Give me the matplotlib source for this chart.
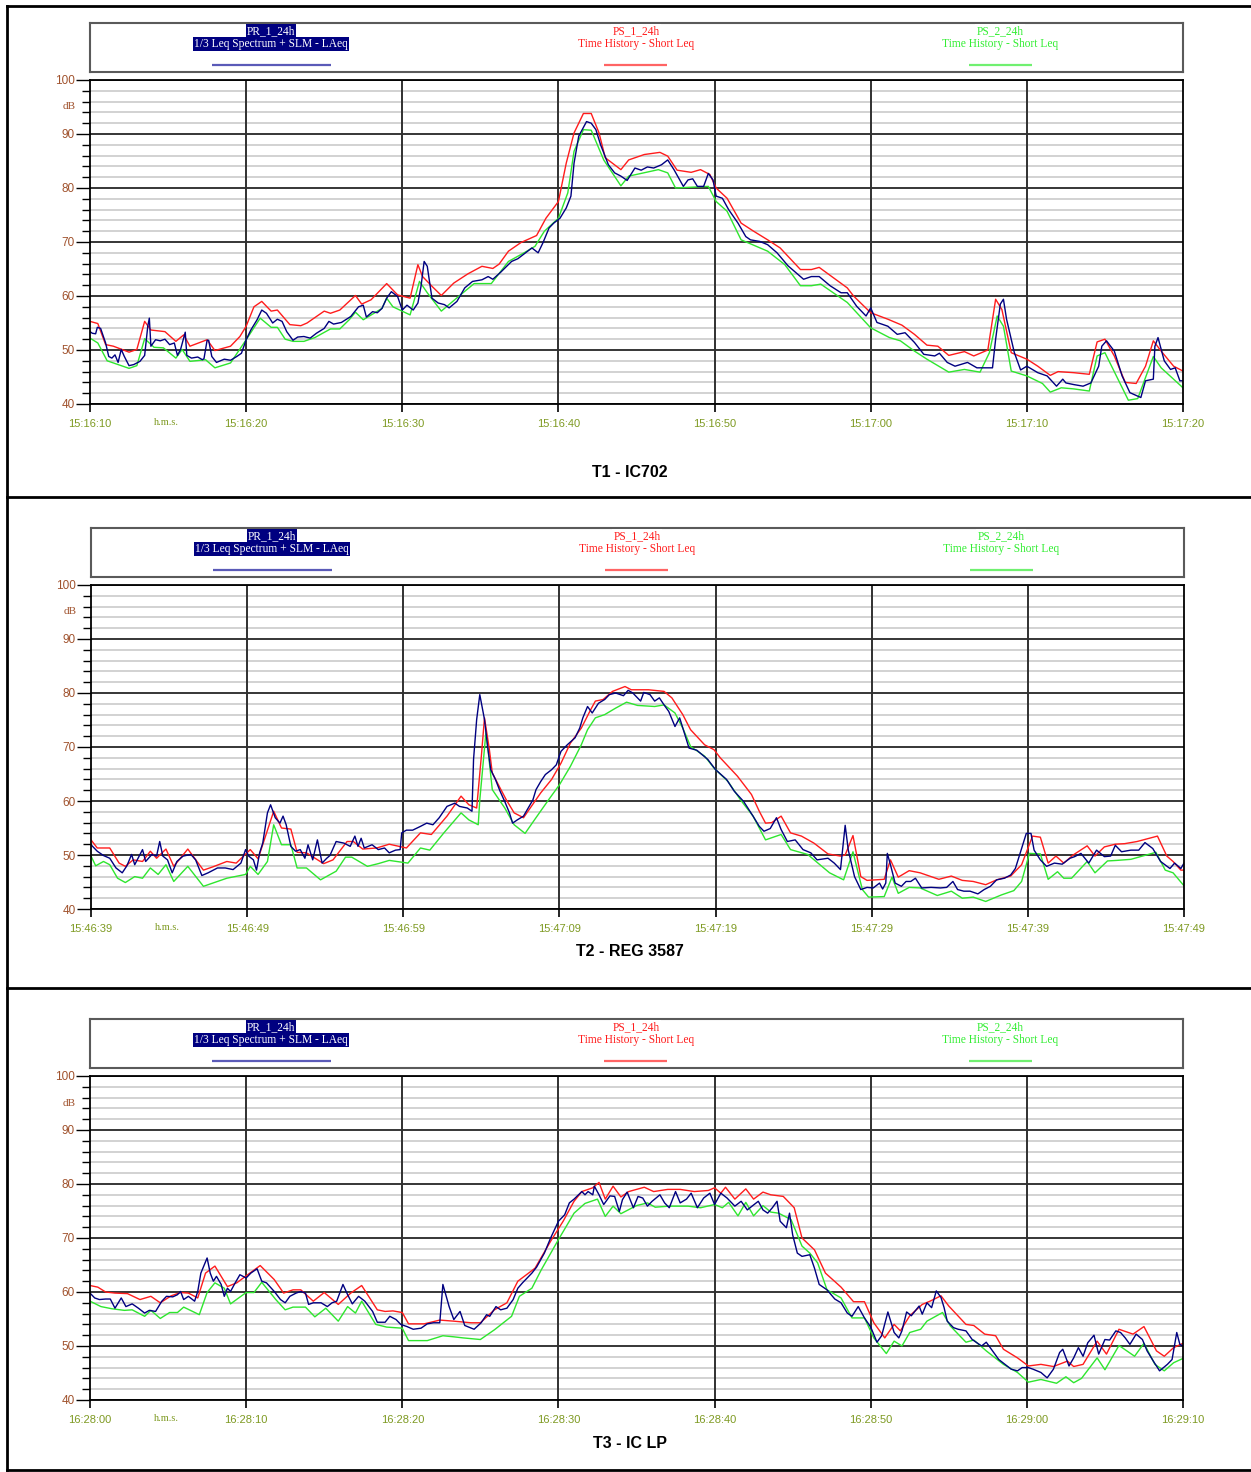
import matplotlib
matplotlib.use("Agg")
import matplotlib.pyplot as plt
from matplotlib.lines import Line2D
from matplotlib.ticker import MultipleLocator
from matplotlib.transforms import blended_transform_factory

# Sound level traces, (seconds from start, dB)
# T1 - IC702
T1_PR = [(0, 53.4), (0.15, 53.1), (0.36, 53.0), (0.47, 54.2), (0.68, 54.0), (1.0, 51.3), (1.2, 48.8),
         (1.4, 48.5), (1.6, 49.1), (1.8, 47.7), (2.0, 50.1), (2.2, 48.8), (2.5, 47.1), (2.8, 47.3),
         (3.2, 47.9), (3.5, 49.0), (3.7, 54.4), (3.8, 55.9), (3.9, 50.7), (4.2, 51.9), (4.5, 51.7),
         (4.8, 52.0), (5.1, 51.0), (5.4, 51.3), (5.6, 49.0), (5.8, 50.1), (6.1, 53.3), (6.2, 49.0),
         (6.5, 48.5), (6.9, 48.7), (7.2, 48.2), (7.3, 48.4), (7.5, 51.8), (7.6, 51.8), (7.8, 48.8),
         (8.1, 47.7), (8.6, 48.3), (9.0, 48.1), (9.4, 48.8), (9.7, 49.4), (10.0, 51.9), (10.3, 53.7),
         (10.7, 55.6), (11.0, 57.4), (11.3, 56.8), (11.7, 55.0), (12.0, 55.7), (12.3, 55.3), (12.6, 53.4),
         (13.0, 51.8), (13.3, 52.4), (13.7, 52.5), (14.1, 52.2), (14.5, 53.1), (15.0, 54.0), (15.3, 55.3),
         (15.6, 54.8), (16.1, 55.1), (16.7, 56.2), (17.2, 58.0), (17.5, 58.3), (17.7, 56.1), (18.1, 57.1),
         (18.4, 56.9), (18.7, 57.7), (19.0, 59.6), (19.3, 60.8), (19.7, 59.9), (20.0, 57.4), (20.3, 58.3),
         (20.7, 57.4), (21.0, 58.7), (21.2, 61.8), (21.4, 66.4), (21.6, 65.5), (21.9, 59.6), (22.3, 58.7),
         (22.7, 58.4), (23.0, 57.8), (23.5, 59.0), (24.0, 61.5), (24.5, 62.7), (25.1, 63.0), (25.5, 63.6),
         (25.8, 63.1), (26.3, 64.4), (27.0, 66.4), (27.4, 66.9), (27.8, 67.8), (28.3, 68.9), (28.7, 68.0),
         (29.0, 69.8), (29.4, 72.6), (29.7, 73.5), (30.1, 74.4), (30.5, 76.3), (30.8, 78.5), (31.0, 84.6),
         (31.3, 89.6), (31.8, 92.3), (32.1, 92.0), (32.4, 90.8), (32.7, 88.0), (33.2, 84.3), (33.6, 82.8),
         (34.0, 82.2), (34.4, 81.4), (34.9, 83.7), (35.3, 83.3), (35.7, 83.9), (36.1, 83.7), (36.6, 84.3),
         (37.0, 85.2), (37.4, 83.4), (38.0, 80.3), (38.3, 81.5), (38.6, 81.7), (38.9, 80.3), (39.3, 80.3),
         (39.6, 82.7), (39.9, 81.5), (40.1, 78.5), (40.5, 78.1), (40.9, 76.0), (41.5, 73.5), (42.0, 71.0),
         (42.3, 70.4), (42.9, 70.1), (43.4, 69.5), (44.0, 68.0), (44.7, 65.6), (45.1, 64.6), (45.7, 63.1),
         (46.2, 63.6), (46.7, 63.6), (47.4, 61.9), (48.1, 60.6), (48.5, 60.6), (49.1, 58.1), (49.7, 56.3),
         (50.0, 57.8), (50.4, 55.1), (51.1, 54.4), (51.7, 52.9), (52.2, 53.2), (52.8, 51.4), (53.4, 49.2),
         (54.1, 48.9), (54.4, 49.4), (54.9, 47.7), (55.4, 47.0), (56.2, 47.7), (56.8, 46.7), (57.4, 46.7),
         (57.8, 46.7), (58.0, 52.0), (58.3, 58.5), (58.5, 59.4), (58.7, 55.7), (59.2, 49.5), (59.6, 46.3),
         (60.0, 47.0), (60.7, 45.8), (61.3, 45.2), (61.9, 43.3), (62.3, 44.6), (62.5, 43.9), (63.0, 43.6),
         (63.6, 43.3), (64.1, 43.9), (64.6, 47.0), (64.8, 50.7), (65.1, 51.7), (65.6, 49.8), (66.1, 45.2),
         (66.6, 42.1), (67.3, 41.2), (67.6, 44.3), (68.1, 44.6), (68.2, 50.7), (68.4, 52.3), (68.8, 48.0),
         (69.2, 46.4), (69.5, 46.7), (69.8, 44.3), (70.0, 44.3)]
T1_PS1 = [(0, 55.3), (0.5, 54.9), (1.0, 51.0), (1.5, 50.7), (2.5, 49.6), (3.0, 50.1), (3.5, 55.3),
          (3.9, 53.7), (4.8, 53.4), (5.5, 51.6), (6.0, 52.8), (6.4, 50.7), (7.5, 51.9), (8.0, 49.9),
          (9.0, 50.7), (9.6, 52.5), (10.0, 54.4), (10.5, 58.0), (11.0, 59.0), (11.6, 57.2), (12.0, 57.4),
          (12.8, 54.7), (13.5, 54.5), (13.9, 55.0), (15.0, 57.2), (15.4, 56.8), (16.0, 57.4), (17.0, 60.1),
          (17.4, 58.5), (18.0, 59.3), (19.0, 62.3), (19.7, 60.2), (20.5, 59.6), (21.0, 65.8), (21.3, 63.6),
          (21.9, 61.8), (22.5, 60.1), (23.3, 62.4), (24.2, 64.1), (25.1, 65.5), (25.8, 65.1), (26.2, 65.9),
          (26.8, 68.3), (27.6, 69.9), (28.6, 71.2), (29.2, 74.4), (30.0, 77.5), (30.5, 84.6), (31.0, 90.2),
          (31.6, 93.8), (32.1, 93.8), (32.6, 90.2), (33.0, 85.6), (34.0, 83.4), (34.5, 85.2), (35.5, 86.2),
          (36.5, 86.6), (37.0, 85.9), (37.6, 83.3), (38.5, 82.9), (39.1, 83.4), (39.7, 82.5), (40.1, 80.0),
          (40.8, 78.1), (41.7, 73.5), (42.5, 72.0), (43.4, 70.4), (44.2, 68.9), (45.5, 64.9), (46.2, 64.9),
          (46.7, 65.3), (48.5, 61.5), (48.9, 60.0), (50.0, 56.9), (51.1, 55.7), (52.0, 54.6), (52.8, 52.9),
          (53.6, 50.9), (54.3, 50.7), (55.0, 49.0), (56.0, 49.7), (56.6, 48.9), (57.5, 50.0), (58.0, 59.4),
          (58.4, 57.5), (59.0, 49.5), (60.0, 48.3), (60.7, 47.0), (61.5, 45.3), (62.0, 46.0), (63.0, 45.8),
          (64.0, 45.5), (64.5, 51.5), (65.0, 52.0), (65.6, 48.9), (66.3, 44.0), (67.0, 43.8), (67.6, 47.0),
          (68.1, 51.7), (68.6, 49.8), (69.4, 47.0), (70.0, 46.1)]
T1_PS2 = [(0, 52.2), (0.5, 51.3), (1.1, 48.0), (2.5, 46.6), (3.0, 47.1), (3.5, 52.1), (4.1, 50.5),
          (4.7, 50.4), (5.5, 48.5), (5.9, 50.1), (6.4, 47.9), (7.4, 48.2), (8.0, 46.7), (9.0, 47.6),
          (10.0, 51.9), (10.9, 55.9), (11.6, 54.2), (12.0, 54.2), (12.5, 52.0), (13.0, 51.6), (13.7, 51.6),
          (14.4, 52.3), (15.4, 53.9), (16.0, 53.9), (16.6, 55.6), (17.0, 57.0), (17.5, 55.6), (18.7, 57.7),
          (19.0, 59.6), (19.4, 58.0), (20.5, 56.5), (21.1, 62.7), (21.6, 60.6), (22.5, 57.2), (23.6, 59.9),
          (24.6, 62.3), (25.7, 62.3), (26.8, 66.4), (27.8, 68.0), (28.5, 69.2), (29.1, 72.0), (30.0, 74.4),
          (30.6, 79.1), (31.0, 86.8), (31.6, 90.8), (32.1, 90.7), (32.9, 85.2), (34.0, 80.4), (34.5, 82.2),
          (35.3, 82.7), (36.4, 83.4), (37.0, 82.8), (37.5, 80.0), (39.6, 80.3), (40.1, 77.5), (40.8, 75.7),
          (41.7, 70.4), (43.4, 68.3), (44.5, 65.8), (45.5, 61.9), (46.2, 61.9), (46.8, 62.2), (48.5, 58.8),
          (50.0, 54.1), (51.2, 52.3), (51.9, 51.7), (52.8, 49.8), (53.6, 48.3), (55.0, 45.9), (56.0, 46.4),
          (57.0, 45.9), (57.6, 49.5), (58.1, 56.3), (58.5, 54.4), (59.0, 46.1), (60.0, 45.2), (61.0, 43.8),
          (61.5, 42.2), (62.2, 43.0), (63.0, 42.8), (64.0, 42.4), (64.5, 48.9), (65.0, 49.5), (66.5, 40.7),
          (67.1, 41.0), (67.6, 44.9), (68.1, 48.8), (68.6, 46.7), (70.0, 43.0)]

# T2 - REG 3587
T2_PR = [(0, 51.9), (0.4, 50.7), (0.8, 49.9), (1.2, 49.4), (1.6, 47.6), (2.0, 46.7), (2.3, 48.0),
         (2.6, 50.1), (2.8, 48.2), (3.3, 51.0), (3.5, 48.8), (3.9, 50.1), (4.2, 49.8), (4.4, 52.5),
         (4.6, 49.8), (4.9, 49.1), (5.2, 46.7), (5.5, 48.8), (5.9, 49.8), (6.4, 50.1), (6.7, 49.1),
         (7.1, 46.2), (7.5, 46.7), (8.1, 47.6), (8.6, 47.6), (9.1, 47.3), (9.6, 48.5), (9.9, 51.0),
         (10.1, 49.8), (10.4, 49.1), (10.6, 47.2), (10.8, 50.4), (11.0, 52.2), (11.3, 57.8), (11.5, 59.3),
         (11.8, 56.9), (12.1, 55.9), (12.3, 57.2), (12.5, 55.6), (12.8, 51.6), (13.1, 50.7), (13.4, 51.0),
         (13.7, 49.4), (13.9, 51.9), (14.2, 49.1), (14.5, 52.8), (14.8, 48.5), (15.1, 49.4), (15.3, 49.9),
         (15.7, 52.5), (16.2, 52.2), (16.6, 51.6), (16.9, 53.5), (17.1, 51.6), (17.3, 53.1), (17.5, 51.3),
         (18.0, 51.9), (18.4, 51.0), (18.8, 51.3), (19.1, 50.4), (19.5, 50.9), (19.8, 51.0), (19.9, 54.1),
         (20.2, 54.6), (20.6, 54.6), (21.1, 55.3), (21.5, 55.9), (21.9, 55.6), (22.3, 56.9), (22.8, 59.0),
         (23.3, 59.6), (23.6, 59.0), (24.1, 58.7), (24.4, 58.1), (24.5, 67.7), (24.7, 75.1), (24.9, 79.7),
         (25.2, 75.1), (25.4, 70.1), (25.6, 65.8), (25.9, 64.0), (26.2, 61.8), (26.5, 59.9), (26.8, 57.8),
         (27.0, 55.9), (27.3, 56.5), (27.7, 57.2), (28.0, 58.7), (28.3, 60.2), (28.5, 62.1), (28.8, 63.6),
         (29.1, 64.9), (29.5, 65.8), (29.8, 66.7), (30.1, 69.2), (30.5, 70.4), (31.0, 71.7), (31.3, 73.5),
         (31.5, 75.4), (31.8, 77.5), (32.1, 76.3), (32.5, 78.1), (32.9, 78.8), (33.2, 79.7), (33.6, 80.0),
         (34.1, 79.5), (34.4, 80.5), (34.7, 80.0), (35.0, 79.1), (35.2, 78.5), (35.4, 80.1), (35.8, 79.7),
         (36.1, 78.5), (36.4, 79.1), (36.7, 77.8), (37.0, 76.6), (37.4, 73.8), (37.7, 75.4), (38.0, 72.6),
         (38.3, 69.8), (38.8, 69.4), (39.5, 67.7), (40.0, 65.8), (40.7, 64.0), (41.2, 61.8), (41.8, 59.9),
         (42.4, 57.2), (42.8, 55.3), (43.1, 54.4), (43.5, 54.9), (43.9, 56.9), (44.2, 54.7), (44.6, 52.5),
         (45.1, 52.8), (45.6, 51.0), (46.1, 50.4), (46.5, 49.1), (47.2, 49.4), (47.6, 48.5), (48.0, 47.3),
         (48.2, 52.8), (48.3, 55.5), (48.5, 50.9), (48.9, 46.0), (49.3, 43.6), (49.7, 44.0), (50.1, 43.9),
         (50.5, 44.8), (50.7, 43.7), (50.9, 44.8), (51.0, 50.3), (51.2, 48.2), (51.5, 44.8), (51.9, 44.2),
         (52.2, 45.1), (52.5, 45.1), (52.8, 45.7), (53.2, 43.9), (53.8, 44.0), (54.4, 43.9), (54.8, 44.0),
         (55.2, 45.1), (55.5, 43.6), (55.9, 43.3), (56.3, 43.3), (56.8, 42.8), (57.2, 43.6), (57.6, 44.2),
         (58.0, 45.4), (58.5, 45.7), (58.9, 46.3), (59.2, 47.5), (59.5, 50.3), (59.9, 54.0), (60.2, 54.0),
         (60.4, 50.9), (60.8, 49.1), (61.2, 47.9), (61.7, 48.5), (62.2, 48.3), (62.7, 49.4), (63.0, 49.7),
         (63.4, 50.3), (63.9, 48.5), (64.4, 50.9), (64.9, 49.7), (65.3, 49.8), (65.6, 51.8), (66.0, 50.6),
         (66.6, 50.9), (67.1, 50.9), (67.5, 52.3), (68.0, 51.2), (68.5, 48.8), (69.1, 47.5), (69.4, 48.5),
         (69.8, 47.5), (70.0, 48.5)]
T2_PS1 = [(0, 52.8), (0.4, 51.3), (1.2, 51.3), (1.8, 48.5), (2.2, 47.9), (2.7, 49.1), (3.3, 48.8),
          (3.8, 50.7), (4.2, 49.4), (4.8, 51.1), (5.3, 47.9), (6.2, 51.1), (7.2, 47.2), (7.8, 47.8),
          (8.7, 48.8), (9.3, 48.5), (10.2, 51.0), (10.7, 49.3), (11.7, 58.1), (12.2, 55.0), (12.8, 54.8),
          (13.2, 50.5), (13.8, 50.4), (14.9, 48.4), (15.5, 49.1), (16.4, 52.5), (16.8, 52.5), (17.4, 51.1),
          (18.3, 51.3), (19.1, 52.0), (20.2, 51.3), (21.1, 54.1), (21.8, 53.8), (22.8, 57.2), (23.7, 60.9),
          (24.2, 59.3), (24.7, 58.7), (25.0, 68.3), (25.2, 75.4), (25.5, 69.8), (25.7, 65.2), (26.2, 62.4),
          (26.6, 60.2), (27.1, 57.8), (27.7, 56.9), (28.2, 59.0), (28.8, 61.5), (29.5, 64.0), (30.1, 67.0),
          (30.7, 70.7), (31.4, 73.5), (32.0, 76.9), (32.3, 78.5), (32.8, 78.8), (33.4, 80.3), (34.2, 81.2),
          (34.6, 80.6), (35.7, 80.6), (36.7, 80.3), (37.2, 79.1), (37.9, 76.0), (38.4, 73.2), (39.3, 70.4),
          (39.9, 69.5), (40.3, 68.0), (41.4, 64.6), (42.3, 61.2), (42.8, 58.1), (43.2, 55.9), (43.6, 56.0),
          (44.2, 57.2), (44.8, 54.1), (45.5, 53.5), (46.3, 52.2), (47.2, 50.2), (48.0, 49.8), (48.3, 50.0),
          (48.8, 53.6), (49.3, 46.0), (49.7, 45.3), (50.8, 45.5), (51.2, 49.1), (51.7, 45.9), (52.4, 47.1),
          (53.1, 46.7), (54.3, 45.5), (55.1, 46.1), (55.8, 45.3), (56.5, 45.1), (57.3, 44.5), (58.0, 45.4),
          (58.9, 46.1), (59.6, 48.2), (60.3, 53.5), (60.8, 53.3), (61.3, 48.5), (61.8, 49.8), (62.3, 48.5),
          (62.9, 50.0), (63.8, 51.7), (64.3, 49.8), (64.9, 51.5), (65.6, 52.0), (66.2, 52.1), (67.0, 52.5),
          (68.3, 53.5), (68.9, 49.8), (69.3, 48.8), (69.8, 47.2), (70.0, 47.2)]
T2_PS2 = [(0, 49.8), (0.3, 48.0), (0.8, 48.8), (1.2, 48.2), (1.7, 45.7), (2.2, 44.9), (2.8, 46.0),
          (3.3, 45.7), (3.8, 47.6), (4.3, 46.4), (4.8, 48.2), (5.3, 45.1), (6.2, 47.9), (7.2, 44.2),
          (8.7, 45.7), (9.9, 46.4), (10.2, 47.9), (10.7, 46.4), (11.3, 48.8), (11.7, 55.6), (12.2, 51.9),
          (12.8, 51.9), (13.2, 47.6), (13.8, 47.6), (14.7, 45.4), (15.7, 47.0), (16.3, 49.6), (16.7, 49.6),
          (17.7, 47.9), (18.4, 48.4), (19.1, 49.0), (20.3, 48.5), (21.1, 51.3), (21.7, 50.9), (22.6, 54.1),
          (23.7, 57.8), (24.2, 56.5), (24.8, 55.6), (24.9, 60.2), (25.3, 72.9), (25.7, 62.1), (26.5, 58.7),
          (27.1, 55.6), (27.8, 54.0), (28.4, 56.5), (29.3, 60.2), (30.0, 63.0), (30.7, 66.4), (31.4, 70.4),
          (31.8, 73.2), (32.3, 75.4), (32.9, 76.0), (33.6, 77.2), (34.3, 78.3), (35.0, 77.7), (36.1, 77.5),
          (36.7, 77.8), (37.4, 76.3), (37.9, 73.5), (38.4, 70.1), (39.3, 68.3), (39.9, 66.1), (40.8, 63.6),
          (41.6, 60.2), (42.4, 57.2), (43.2, 52.8), (44.2, 53.8), (44.8, 51.0), (45.9, 50.1), (47.3, 46.7),
          (48.2, 45.4), (48.8, 50.6), (49.4, 43.6), (49.8, 42.2), (50.8, 42.3), (51.3, 45.9), (51.7, 42.9),
          (52.4, 44.0), (53.1, 43.9), (54.2, 42.5), (55.1, 43.3), (55.8, 42.0), (56.5, 42.2), (57.3, 41.4),
          (58.3, 42.6), (59.1, 43.4), (59.6, 45.1), (60.1, 50.3), (60.8, 50.2), (61.3, 45.5), (61.9, 46.9),
          (62.3, 45.7), (62.8, 45.7), (63.8, 48.8), (64.3, 46.7), (65.1, 48.9), (65.7, 49.0), (66.6, 49.2),
          (68.2, 50.5), (68.8, 47.2), (69.3, 46.7), (70.0, 44.3)]

# T3 - IC LP
T3_PR = [(0, 59.8), (0.3, 58.9), (0.6, 58.6), (1.0, 58.7), (1.3, 58.7), (1.6, 57.0), (2.0, 58.9),
         (2.3, 57.3), (2.7, 57.8), (3.1, 57.0), (3.5, 56.1), (3.8, 56.6), (4.2, 56.4), (4.6, 58.3),
         (4.9, 59.2), (5.3, 59.1), (5.6, 59.5), (5.8, 60.1), (6.0, 58.6), (6.3, 59.2), (6.7, 58.3),
         (6.9, 60.1), (7.1, 63.5), (7.5, 66.3), (7.7, 63.5), (7.9, 62.0), (8.1, 62.9), (8.4, 61.4),
         (8.6, 59.2), (8.8, 60.7), (9.0, 60.1), (9.3, 61.7), (9.6, 63.2), (10.0, 62.6), (10.3, 63.5),
         (10.7, 64.3), (11.0, 62.0), (11.3, 61.7), (11.8, 60.1), (12.2, 58.6), (12.5, 58.0), (12.8, 59.2),
         (13.2, 59.8), (13.5, 60.1), (13.8, 59.8), (14.0, 57.7), (14.3, 58.0), (14.8, 58.0), (15.2, 57.3),
         (15.5, 58.0), (15.8, 58.3), (16.2, 61.4), (16.5, 59.5), (16.8, 57.8), (17.2, 59.2), (17.6, 58.3),
         (18.1, 56.4), (18.4, 54.4), (18.9, 54.4), (19.2, 55.5), (19.6, 54.9), (19.9, 54.0), (20.3, 53.6),
         (20.7, 53.1), (21.2, 53.3), (21.6, 54.1), (22.0, 54.3), (22.4, 54.3), (22.6, 61.4), (23.0, 57.3),
         (23.3, 54.9), (23.7, 56.4), (24.0, 53.8), (24.6, 53.1), (25.05, 54.3), (25.4, 55.8), (25.6, 55.5),
         (26.0, 57.3), (26.3, 56.7), (26.7, 57.0), (27.1, 58.6), (27.4, 60.7), (27.7, 61.7), (28.3, 63.5),
         (28.6, 64.6), (29.1, 67.2), (29.5, 70.0), (30.0, 73.1), (30.4, 74.3), (30.7, 76.5), (31.0, 77.2),
         (31.5, 78.6), (31.7, 78.0), (31.9, 78.6), (32.2, 78.0), (32.3, 79.6), (32.6, 78.0), (32.9, 76.2),
         (33.3, 77.8), (33.6, 77.7), (33.9, 74.9), (34.1, 77.1), (34.4, 78.5), (34.8, 75.6), (35.1, 77.7),
         (35.4, 77.4), (35.7, 75.9), (36.0, 76.8), (36.5, 78.0), (36.8, 76.5), (37.1, 75.6), (37.5, 78.6),
         (37.8, 76.5), (38.2, 77.2), (38.5, 78.3), (38.9, 75.6), (39.3, 77.4), (39.7, 78.3), (40.0, 76.2),
         (40.4, 78.3), (40.8, 77.4), (41.3, 75.9), (41.7, 76.8), (42.1, 75.2), (42.4, 75.9), (42.8, 76.8),
         (43.1, 75.2), (43.4, 74.6), (43.7, 75.6), (44.0, 76.8), (44.2, 73.1), (44.6, 71.9), (44.8, 74.6),
         (45.0, 70.6), (45.3, 67.2), (45.6, 66.6), (46.1, 66.9), (46.4, 64.4), (46.7, 61.4), (47.2, 60.4),
         (47.7, 58.7), (48.1, 58.0), (48.5, 56.1), (48.8, 55.5), (49.2, 57.3), (49.6, 55.2), (50.0, 53.5),
         (50.4, 50.7), (50.7, 51.9), (51.1, 56.3), (51.5, 52.5), (51.8, 51.5), (52.0, 52.8), (52.3, 56.3),
         (52.6, 55.6), (53.1, 57.4), (53.3, 55.9), (53.6, 58.0), (53.9, 57.1), (54.2, 60.2), (54.5, 59.0),
         (54.7, 57.1), (54.9, 54.6), (55.3, 53.4), (55.6, 53.1), (56.1, 52.8), (56.5, 51.2), (56.8, 50.6),
         (57.1, 50.0), (57.4, 50.7), (57.8, 49.1), (58.2, 47.5), (58.6, 46.6), (59.0, 45.7), (59.4, 45.4),
         (59.7, 46.0), (60.1, 46.0), (60.4, 45.7), (60.9, 45.1), (61.3, 44.1), (61.7, 45.7), (62.1, 48.8),
         (62.3, 49.4), (62.7, 46.3), (63.0, 47.8), (63.3, 49.7), (63.6, 48.1), (63.9, 50.6), (64.3, 52.0),
         (64.6, 48.5), (65.0, 51.2), (65.3, 51.1), (65.7, 52.8), (66.0, 52.5), (66.3, 51.5), (66.6, 50.3),
         (67.0, 52.2), (67.4, 51.2), (67.7, 49.1), (68.1, 47.2), (68.5, 45.4), (69.0, 46.6), (69.3, 47.5),
         (69.6, 52.5), (69.8, 50.3), (70.0, 50.0)]
T3_PS1 = [(0, 61.2), (0.5, 60.9), (1.0, 60.0), (1.6, 59.8), (2.4, 59.7), (3.2, 58.6), (3.9, 59.2),
          (4.5, 58.0), (5.2, 59.3), (5.8, 59.9), (6.3, 59.8), (6.9, 58.9), (7.4, 63.5), (8.0, 64.8),
          (8.8, 61.0), (9.4, 61.7), (10.1, 63.2), (10.9, 64.9), (11.8, 62.3), (12.4, 59.8), (13.0, 60.4),
          (13.5, 60.4), (14.3, 58.3), (15.0, 59.9), (15.9, 57.7), (16.7, 59.8), (17.4, 61.2), (18.4, 56.7),
          (18.9, 56.4), (19.4, 56.5), (20.0, 56.2), (20.4, 54.1), (21.4, 54.1), (22.4, 54.8), (23.3, 54.6),
          (24.4, 54.3), (25.0, 54.3), (25.9, 56.7), (26.7, 58.0), (27.4, 62.0), (28.5, 64.4), (29.5, 69.4),
          (30.3, 73.1), (31.0, 76.8), (31.5, 78.6), (32.2, 79.3), (32.6, 80.3), (33.0, 77.2), (33.5, 79.6),
          (34.0, 77.6), (34.5, 78.6), (35.5, 79.4), (36.1, 78.6), (37.0, 79.0), (37.8, 79.0), (38.7, 78.6),
          (39.6, 78.8), (40.0, 79.3), (40.4, 78.3), (40.7, 79.4), (41.3, 77.2), (42.0, 79.1), (42.5, 77.2),
          (43.1, 78.5), (43.6, 78.0), (44.4, 77.7), (45.1, 75.6), (45.6, 70.0), (46.4, 67.8), (47.1, 63.5),
          (48.1, 60.9), (48.9, 58.2), (49.6, 58.2), (50.2, 54.3), (50.9, 51.5), (51.5, 54.0), (51.9, 52.8),
          (52.5, 55.6), (53.3, 57.7), (53.8, 58.3), (54.5, 59.3), (55.0, 57.4), (56.1, 54.0), (56.6, 53.8),
          (57.3, 52.2), (58.0, 51.9), (58.5, 49.4), (59.4, 47.8), (60.1, 46.3), (60.9, 46.6), (61.7, 46.2),
          (62.6, 47.2), (63.0, 46.2), (63.6, 46.6), (64.5, 50.9), (65.1, 48.5), (65.9, 53.1), (66.8, 52.2),
          (67.5, 53.6), (68.3, 49.1), (68.8, 48.1), (69.4, 49.7), (70.0, 50.5)]
T3_PS2 = [(0, 58.3), (0.7, 57.3), (1.4, 56.9), (2.2, 56.6), (2.7, 56.7), (3.5, 55.5), (3.9, 56.6),
          (4.5, 55.1), (5.1, 56.2), (5.6, 56.2), (6.0, 57.2), (7.0, 55.8), (7.5, 59.9), (8.0, 61.7),
          (8.6, 60.7), (9.0, 57.8), (10.0, 59.9), (10.5, 59.9), (11.0, 61.8), (11.9, 58.6), (12.5, 56.7),
          (13.0, 57.2), (13.8, 57.2), (14.4, 55.4), (15.1, 57.0), (15.9, 54.6), (16.5, 57.3), (17.0, 56.1),
          (17.4, 58.3), (18.3, 54.0), (19.0, 53.5), (20.0, 53.3), (20.4, 51.0), (21.6, 51.0), (22.6, 51.9),
          (23.3, 51.7), (23.9, 51.5), (25.0, 51.2), (25.9, 53.0), (27.0, 55.5), (27.5, 59.2), (28.3, 60.7),
          (28.9, 64.1), (30.0, 69.7), (31.0, 74.6), (31.7, 76.4), (32.5, 77.2), (33.0, 74.0), (33.5, 75.9),
          (34.0, 74.5), (35.0, 76.0), (35.7, 76.5), (36.2, 75.7), (37.1, 75.9), (38.3, 75.9), (39.1, 75.6),
          (40.0, 76.2), (40.5, 75.6), (40.9, 76.6), (41.5, 74.1), (42.0, 76.6), (42.5, 74.1), (43.1, 76.0),
          (43.6, 74.8), (44.1, 74.6), (44.9, 73.4), (45.6, 68.5), (46.1, 67.2), (46.6, 65.4), (47.2, 60.4),
          (48.1, 58.9), (48.8, 55.2), (49.6, 55.2), (50.2, 51.5), (51.0, 48.6), (51.5, 50.9), (52.0, 50.0),
          (52.5, 52.5), (53.2, 53.1), (53.6, 54.6), (54.6, 56.2), (55.1, 53.7), (56.1, 50.7), (56.6, 51.1),
          (57.4, 49.1), (58.5, 46.6), (59.4, 45.1), (60.1, 43.3), (60.9, 43.8), (61.9, 43.1), (62.5, 44.3),
          (63.0, 43.2), (63.5, 44.0), (64.5, 47.8), (65.0, 45.6), (65.9, 50.1), (66.9, 48.1), (67.5, 50.5),
          (68.2, 46.6), (68.8, 45.4), (69.4, 46.9), (70.0, 47.7)]

TICKS_T1 = ["15:16:10", "15:16:20", "15:16:30", "15:16:40", "15:16:50", "15:17:00", "15:17:10", "15:17:20"]
TICKS_T2 = ["15:46:39", "15:46:49", "15:46:59", "15:47:09", "15:47:19", "15:47:29", "15:47:39", "15:47:49"]
TICKS_T3 = ["16:28:00", "16:28:10", "16:28:20", "16:28:30", "16:28:40", "16:28:50", "16:29:00", "16:29:10"]
TITLES = ["T1 - IC702", "T2 - REG 3587", "T3 - IC LP"]

W, H = 1251, 1472
NAVY = "#000080"
RED = "#ff1c1c"
GREEN = "#2ee62e"
YLAB = "#a0522d"
XLAB = "#7e9a22"
SERIF = "Liberation Serif"

plt.rcParams["font.family"] = "Liberation Sans"


def box(x0, y0, x1, y1):
    # pixel rectangle (top-left origin) -> figure fraction
    return [x0 / W, 1 - y1 / H, (x1 - x0) / W, (y1 - y0) / H]


def unzip(pairs):
    return [p[0] for p in pairs], [p[1] for p in pairs]


def hline(fig, y, x0=0, x1=W, lw=2.0):
    fig.add_artist(Line2D([x0 / W, x1 / W], [1 - y / H, 1 - y / H], color="black", lw=lw))


def vline(fig, x, y0=0, y1=H, lw=2.0):
    fig.add_artist(Line2D([x / W, x / W], [1 - y0 / H, 1 - y1 / H], color="black", lw=lw))


def legend_box(fig, x0, x1, top):
    lg = fig.add_axes(box(x0, top, x1, top + 49))
    lg.set_xlim(0, x1 - x0)
    lg.set_ylim(49, 0)
    lg.set_xticks([])
    lg.set_yticks([])
    for s in lg.spines.values():
        s.set_color("#5a5a5a")
        s.set_linewidth(1.5)
    entries = [
        (181, "PR_1_24h", "1/3 Leq Spectrum + SLM - LAeq", "white", NAVY, (122, 241), "#5a5ab8"),
        (546, "PS_1_24h", "Time History - Short Leq", RED, "white", (514, 577), "#ff6464"),
        (910, "PS_2_24h", "Time History - Short Leq", "#33ee33", "white", (879, 942), "#70f070"),
    ]
    for cx, name, desc, fg, bg, (l0, l1), lc in entries:
        for y, txt in ((8, name), (21, desc)):
            lg.text(cx, y, txt, ha="center", va="center", color=fg, fontsize=8.3,
                    family=SERIF, clip_on=False, zorder=5,
                    bbox=dict(boxstyle="square,pad=0.1", fc=bg, ec="none"))
        lg.plot([l0, l1], [42, 42], color=lc, lw=1.6, solid_capstyle="butt")


def panel(fig, x0, top, title_y, pr, ps1, ps2, ticks, title):
    x1 = x0 + 1093
    legend_box(fig, x0, x1, top - 57)
    ax = fig.add_axes(box(x0, top, x1, top + 324))
    ax.set_xlim(0, 70)
    ax.set_ylim(40, 100)
    ax.yaxis.set_minor_locator(MultipleLocator(2))
    ax.set_xticks(range(0, 71, 10))
    ax.set_xticklabels(ticks)
    ax.set_yticks(range(40, 101, 10))
    ax.set_yticklabels([str(v) for v in range(40, 101, 10)])
    ax.grid(axis="y", which="minor", color="#c6c6c6", lw=1.1, zorder=0.5)
    ax.grid(axis="y", which="major", color="black", lw=1.1, zorder=0.6)
    # time gridlines sit on top of the level gridlines
    for t in range(10, 70, 10):
        ax.axvline(t, color="#303030", lw=1.4, zorder=1)
    ax.set_axisbelow(True)
    for s in ax.spines.values():
        s.set_color("black")
        s.set_linewidth(1.3)
    ax.tick_params(axis="y", which="major", length=10, width=1.0, labelsize=8.5,
                   labelcolor=YLAB, pad=1)
    ax.tick_params(axis="y", which="minor", length=6, width=1.0)
    ax.tick_params(axis="x", which="major", length=6, width=1.2, labelsize=8,
                   labelcolor=XLAB, pad=5)

    for pairs, color in ((ps2, GREEN), (ps1, RED), (pr, NAVY)):
        t, db = unzip(pairs)
        ax.plot(t, db, color=color, lw=1.0, zorder=2)

    under = blended_transform_factory(ax.transData, ax.transAxes)
    ax.text(4.9, -0.056, "h.m.s.", transform=under, ha="center", va="center",
            color=XLAB, fontsize=7.5, family=SERIF)
    left = blended_transform_factory(ax.transAxes, ax.transData)
    ax.text(-14 / 1093, 95, "dB", transform=left, ha="right", va="center",
            color=YLAB, fontsize=8, family=SERIF)

    fig.text(630 / W, 1 - title_y / H, title, ha="center", va="center",
             fontsize=11.5, fontweight="bold")


fig = plt.figure(figsize=(W / 100, H / 100), dpi=100)

panel(fig, 90, 80, 473, T1_PR, T1_PS1, T1_PS2, TICKS_T1, TITLES[0])
panel(fig, 91, 585, 951, T2_PR, T2_PS1, T2_PS2, TICKS_T2, TITLES[1])
panel(fig, 90, 1076, 1443, T3_PR, T3_PS1, T3_PS2, TICKS_T3, TITLES[2])

# frame around the three panels
hline(fig, 6, 7, W)
hline(fig, 497, 7, W)
hline(fig, 988, 7, W)
hline(fig, 1470, 7, W)
vline(fig, 7, 6, 1470)

fig.savefig("out.png", dpi=100)
